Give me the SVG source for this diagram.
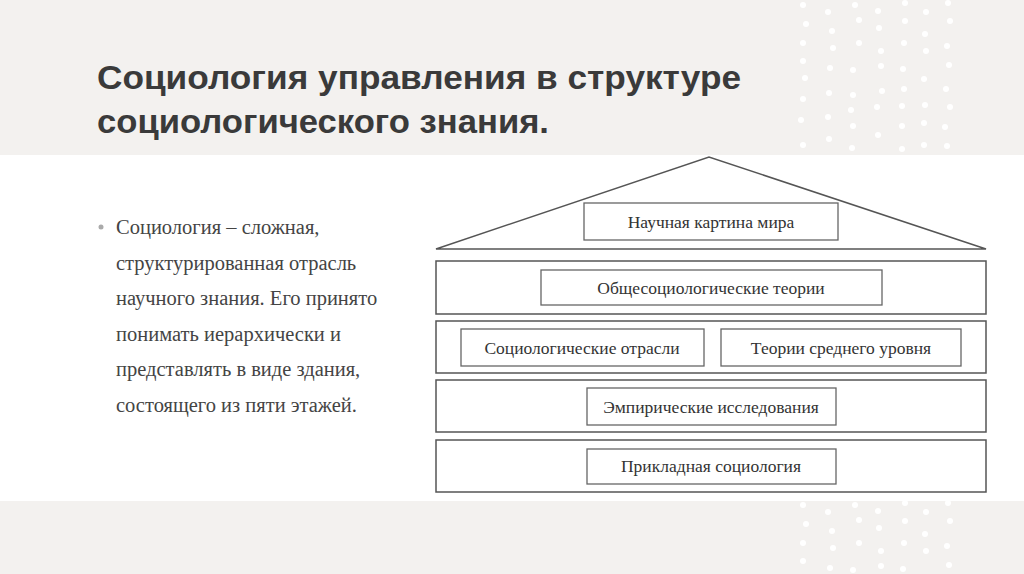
<svg xmlns="http://www.w3.org/2000/svg" width="1024" height="574" viewBox="0 0 1024 574">
<style>
.f{fill:#fff;stroke:#555;stroke-width:1.5}
.b{fill:#fff;stroke:#666;stroke-width:1.3}
.t{font-family:"Liberation Serif",serif;font-size:17.5px;fill:#333;text-anchor:middle}
.p{font-family:"Liberation Serif",serif;font-size:20.5px;fill:#444}
.d{fill:#fff}
</style>
<defs><g id="dots">
<circle class="d" cx="803" cy="5" r="3"/><circle class="d" cx="828" cy="12" r="3"/><circle class="d" cx="855" cy="5" r="3"/><circle class="d" cx="878" cy="11" r="3"/><circle class="d" cx="905" cy="3" r="3"/><circle class="d" cx="926" cy="12" r="3"/><circle class="d" cx="948" cy="3" r="3"/>
<circle class="d" cx="806" cy="24" r="3"/><circle class="d" cx="832" cy="31" r="3"/><circle class="d" cx="859" cy="20" r="3"/><circle class="d" cx="879" cy="28" r="3"/><circle class="d" cx="905" cy="21" r="3"/><circle class="d" cx="925" cy="34" r="3"/><circle class="d" cx="950" cy="21" r="3"/>
<circle class="d" cx="803" cy="43" r="3"/><circle class="d" cx="833" cy="48" r="3"/><circle class="d" cx="859" cy="43" r="3"/><circle class="d" cx="881" cy="51" r="3"/><circle class="d" cx="904" cy="43" r="3"/><circle class="d" cx="926" cy="51" r="3"/><circle class="d" cx="947" cy="46" r="3"/>
<circle class="d" cx="803" cy="61" r="3"/><circle class="d" cx="830" cy="68" r="3"/><circle class="d" cx="853" cy="70" r="3"/><circle class="d" cx="881" cy="66" r="3"/><circle class="d" cx="903" cy="69" r="3"/><circle class="d" cx="924" cy="79" r="3"/><circle class="d" cx="949" cy="65" r="3"/>
<circle class="d" cx="805" cy="78" r="3"/><circle class="d" cx="829" cy="93" r="3"/><circle class="d" cx="853" cy="95" r="3"/><circle class="d" cx="882" cy="91" r="3"/><circle class="d" cx="904" cy="89" r="3"/><circle class="d" cx="946" cy="89" r="3"/>
<circle class="d" cx="803" cy="99" r="3"/><circle class="d" cx="851" cy="110" r="3"/><circle class="d" cx="877" cy="107" r="3"/><circle class="d" cx="902" cy="106" r="3"/><circle class="d" cx="925" cy="105" r="3"/><circle class="d" cx="950" cy="107" r="3"/>
<circle class="d" cx="801" cy="120" r="3"/><circle class="d" cx="828" cy="117" r="3"/><circle class="d" cx="853" cy="126" r="3"/><circle class="d" cx="878" cy="135" r="3"/><circle class="d" cx="902" cy="126" r="3"/><circle class="d" cx="924" cy="123" r="3"/><circle class="d" cx="945" cy="127" r="3"/>
<circle class="d" cx="803" cy="145" r="3"/><circle class="d" cx="829" cy="139" r="3"/><circle class="d" cx="852" cy="148" r="3"/><circle class="d" cx="902" cy="149" r="3"/><circle class="d" cx="924" cy="145" r="3"/><circle class="d" cx="947" cy="146" r="3"/>
</g></defs>
<rect width="1024" height="574" fill="#fff"/>
<rect x="0" y="0" width="1024" height="155" fill="#f3f1ef"/>
<rect x="0" y="501" width="1024" height="73" fill="#f3f1ef"/>
<use href="#dots"/>
<use href="#dots" transform="translate(0,500)"/>
<text x="97" y="89" font-family="Liberation Sans,sans-serif" font-weight="bold" font-size="33" fill="#3a3a3a" textLength="644" lengthAdjust="spacingAndGlyphs">Социология управления в структуре</text>
<text x="97" y="133" font-family="Liberation Sans,sans-serif" font-weight="bold" font-size="33" fill="#3a3a3a" textLength="452" lengthAdjust="spacingAndGlyphs">социологического знания.</text>
<g id="bullet">
<circle cx="101" cy="227" r="2.5" fill="#aaa"/>
<text class="p" x="116" y="234">Социология – сложная,</text>
<text class="p" x="116" y="270">структурированная отрасль</text>
<text class="p" x="116" y="305">научного знания. Его принято</text>
<text class="p" x="116" y="341">понимать иерархически и</text>
<text class="p" x="116" y="376">представлять в виде здания,</text>
<text class="p" x="116" y="412">состоящего из пяти этажей.</text>
</g>
<g id="roof"><polygon class="f" points="436,249 709,157 986,249"/>
<rect class="b" x="584" y="203" width="254" height="37"/><text class="t" x="711" y="228">Научная картина мира</text></g>
<g id="floor4"><rect class="f" x="436" y="261" width="550" height="53"/>
<rect class="b" x="541" y="270" width="341" height="35"/><text class="t" x="711" y="294">Общесоциологические теории</text></g>
<g id="floor3"><rect class="f" x="436" y="321" width="550" height="52"/>
<rect class="b" x="461" y="329" width="243" height="37"/><text class="t" x="582" y="354">Социологические отрасли</text>
<rect class="b" x="721" y="329" width="240" height="37"/><text class="t" x="841" y="354">Теории среднего уровня</text></g>
<g id="floor2"><rect class="f" x="436" y="380" width="550" height="52"/>
<rect class="b" x="587" y="388" width="249" height="37"/><text class="t" x="711" y="413">Эмпирические исследования</text></g>
<g id="floor1"><rect class="f" x="436" y="440" width="550" height="52"/>
<rect class="b" x="587" y="449" width="249" height="35"/><text class="t" x="711" y="472">Прикладная социология</text></g>
<g id="connectors"/>
</svg>
